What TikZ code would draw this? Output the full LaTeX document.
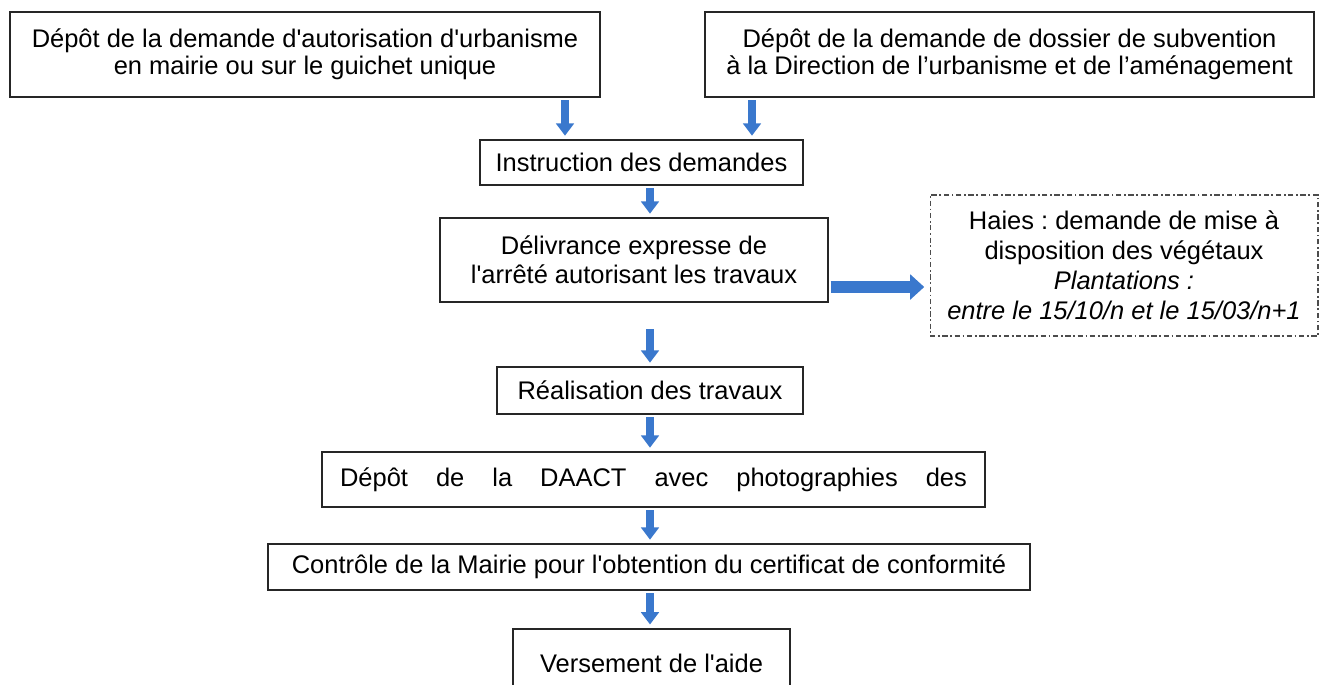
\documentclass[tikz,border=0pt]{standalone}
\usepackage{fontspec}
\setmainfont{Liberation Sans}[Ligatures=TeXOff]
\usepackage{tikz}
\usetikzlibrary{arrows.meta,calc}
\definecolor{flowblue}{RGB}{58,120,205}
\newcommand{\boxfont}{\fontsize{14.5}{15.5}\selectfont\frenchspacing}

\begin{document}
\begin{tikzpicture}[x=0.02cm,y=-0.02cm,
    box/.style={draw=black!85, line width=0.9pt, align=center, inner sep=0pt, font=\boxfont},
    flow/.style={flowblue, line width=4pt, -{Triangle[width=10pt,length=7pt]}, shorten <=1.5pt, shorten >=2pt},
    side/.style={flowblue, line width=7pt, -{Triangle[width=14pt,length=8pt]}, shorten <=1pt, shorten >=3pt},
    dashdot/.style={draw=black!70, line width=0.6pt, dash pattern=on 3pt off 1.5pt on 1pt off 1.5pt}]
        \useasboundingbox (0,0) rectangle (1322,684);
        \coordinate (xl) at (565,0);
        \coordinate (xr) at (752,0);
        \coordinate (xm) at (650,0);
        \coordinate (yh) at (0,287);
        % boxes
        \node[box, minimum width=11.8cm, minimum height=1.7cm] (dep) at (305,54.5)
            {Dépôt de la demande d'autorisation d'urbanisme\\en mairie ou sur le guichet unique};
        \node[box, minimum width=12.18cm, minimum height=1.7cm] (sub) at (1009.5,54.5)
            {Dépôt de la demande de dossier de subvention\\à la Direction de l’urbanisme et de l’aménagement};
        \node[box, minimum width=6.46cm, minimum height=0.9cm] (instr) at (641.5,162.5)
            {Instruction des demandes};
        \node[box, minimum width=7.76cm, minimum height=1.68cm] (deliv) at (634,260)
            {Délivrance expresse de\\[1pt]l'arrêté autorisant les travaux};
        \node[box, dashdot, minimum width=7.76cm, minimum height=2.82cm] (haies) at (1124,265.5)
            {Haies : demande de mise à\\[1.5pt]disposition des végétaux\\[1.5pt]\textit{Plantations :}\\[1.5pt]\textit{entre le 15/10/n et le 15/03/n+1}};
        \node[box, minimum width=6.12cm, minimum height=0.94cm] (real) at (650,390.5)
            {Réalisation des travaux};
        \node[box, minimum width=13.26cm, minimum height=1.1cm] (daact) at (653.5,479.5)
            {\makebox[12.54cm][s]{Dépôt de la DAACT avec photographies des}};
        \node[box, minimum width=15.24cm, minimum height=0.92cm] (ctrl) at (649,567)
            {Contrôle de la Mairie pour l'obtention du certificat de conformité};
        \begin{scope}
            \clip (0,0) rectangle (1322,684);
            \node[box, anchor=north, minimum width=5.54cm, minimum height=1.4cm] (vers) at (651.5,628)
                {Versement de l'aide};
        \end{scope}
        % arrows
        \draw[flow] (dep.south -| xl) -- (instr.north -| xl);
        \draw[flow] (sub.south -| xr) -- (instr.north -| xr);
        \draw[flow] (instr.south -| xm) -- (deliv.north -| xm);
        \draw[side] (deliv.east |- yh) -- (haies.west |- yh);
        \draw[flow, shorten <=15pt] (deliv.south -| xm) -- (real.north -| xm);
        \draw[flow] (real.south -| xm) -- (daact.north -| xm);
        \draw[flow] (daact.south -| xm) -- (ctrl.north -| xm);
        \draw[flow] (ctrl.south -| xm) -- (vers.north -| xm);
\end{tikzpicture}
\end{document}
